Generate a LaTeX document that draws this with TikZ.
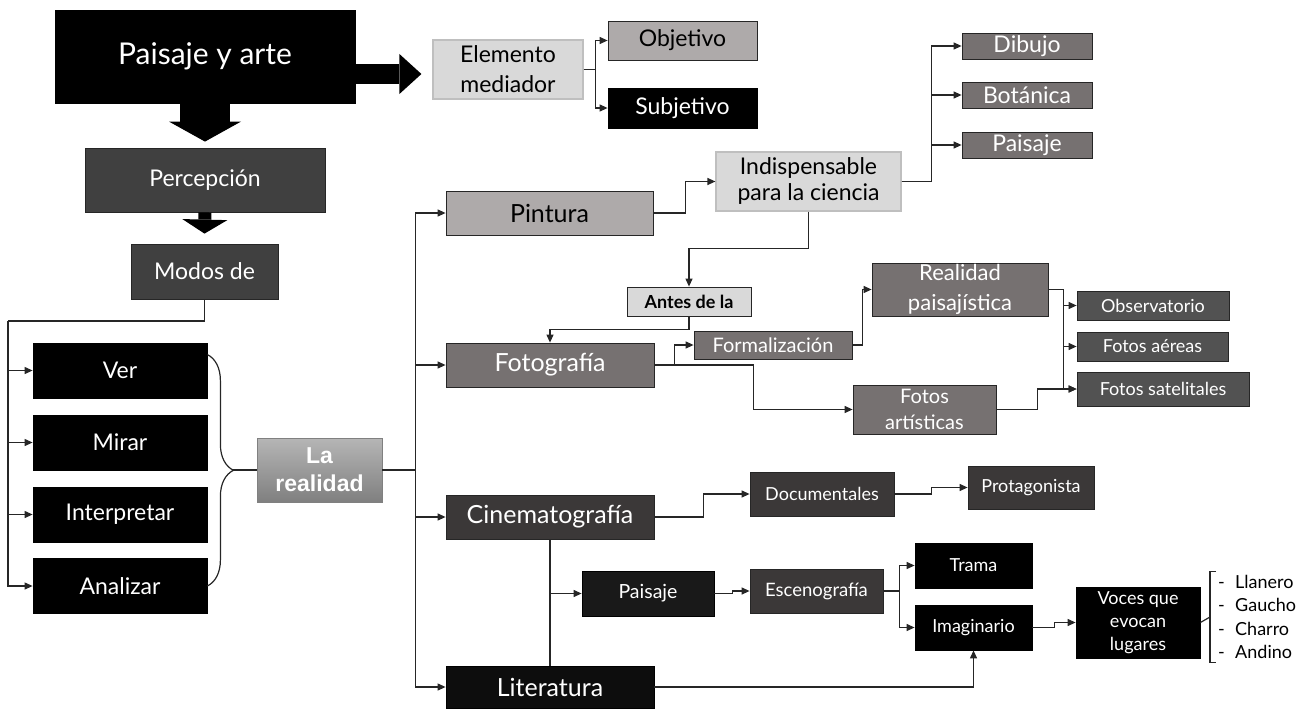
\documentclass[tikz,border=0pt]{standalone}
\usepackage{fontspec}
\setmainfont{Lato}
\newfontfamily\arialfont{Liberation Sans}
\usetikzlibrary{arrows.meta,decorations.pathreplacing}
\definecolor{edge}{HTML}{262626}
\definecolor{gdark}{HTML}{404040}
\definecolor{gcine}{HTML}{3B3838}
\definecolor{gwarm}{HTML}{767171}
\definecolor{glight}{HTML}{AEAAAA}
\definecolor{gpale}{HTML}{D9D9D9}
\definecolor{gpaleline}{HTML}{BFBFBF}
\definecolor{gobs}{HTML}{525252}
\begin{document}
\begin{tikzpicture}[x=1pt,y=-1pt,>={Triangle[length=8pt,width=7pt]},
  every node/.style={inner sep=0pt,align=center},
  box/.style={draw=edge,line width=0.8pt,text=white},
  blackbox/.style={box,fill=black,draw=black},
  darkbox/.style={box,fill=gdark},
  cinebox/.style={box,fill=gcine},
  warmbox/.style={box,fill=gwarm},
  obsbox/.style={box,fill=gobs},
  lightbox/.style={box,fill=glight,text=black},
  palebox/.style={box,fill=gpale,draw=gpaleline,line width=1.2pt,text=black},
  sz/.style 2 args={minimum width=#1,minimum height=#2},
  big/.style={font=\fontsize{30}{34}\selectfont},
  large/.style={font=\fontsize{25}{29}\selectfont},
  mid/.style={font=\fontsize{23}{29}\selectfont},
  small/.style={font=\fontsize{20}{25}\selectfont},
  tiny/.style={font=\fontsize{18}{23.3}\selectfont},
  conn/.style={draw=edge,line width=1.2pt}]
\useasboundingbox (0,0) rectangle (1305,709);

\node[blackbox,sz={300pt}{93pt},big] (arte) at (205,56.5) {Paisaje y arte};
\node[darkbox,sz={240pt}{64pt},mid] (percep) at (205,180) {Percepción};
\node[darkbox,sz={147pt}{55pt},mid] (modos) at (204.5,271.5) {Modos de};
\node[blackbox,sz={174pt}{55pt},mid] (ver) at (120,370.5) {Ver};
\node[blackbox,sz={174pt}{55pt},mid] (mirar) at (120,442.5) {Mirar};
\node[blackbox,sz={174pt}{55pt},mid] (interp) at (120,514.5) {Interpretar};
\node[blackbox,sz={174pt}{55pt},mid] (analizar) at (120,586) {Analizar};
\node[box,draw=gray,top color=gpaleline!85!gray,bottom color=gray,sz={125pt}{64pt},
  font=\arialfont\bfseries\fontsize{23}{28}\selectfont] (realidad) at (319.5,470) {La\\realidad};

\node[palebox,sz={150pt}{59pt},font=\fontsize{23}{30}\selectfont] (elem) at (508,69.5) {Elemento\\mediador};
\node[lightbox,sz={149pt}{39pt},mid] (obj) at (682.5,40.5) {Objetivo};
\node[blackbox,sz={149pt}{40pt},mid] (subj) at (682.5,108) {Subjetivo};

\node[lightbox,sz={207pt}{44pt},large] (pintura) at (549.5,213) {Pintura};
\node[palebox,sz={185pt}{59pt},font=\fontsize{23}{26}\selectfont] (indisp) at (808.5,181.5) {Indispensable\\para la ciencia};
\node[warmbox,sz={130pt}{26pt},mid] (dibujo) at (1027,46) {Dibujo};
\node[warmbox,sz={130pt}{26pt},mid] (botanica) at (1027,95) {Botánica};
\node[warmbox,sz={130pt}{26pt},mid] (paisajeA) at (1027,145) {Paisaje};
\node[palebox,draw=edge,line width=0.8pt,sz={124pt}{29pt},font=\fontsize{18}{23}\selectfont\bfseries] (antes) at (689,301.5) {Antes de la};

\node[warmbox,sz={208pt}{44pt},large] (foto) at (550,365) {Fotografía};
\node[warmbox,sz={158pt}{28pt},small] (formal) at (773,345) {Formalización};
\node[warmbox,sz={176pt}{53pt},font=\fontsize{22}{30}\selectfont] (realpai) at (960,289.5) {Realidad\\paisajística};
\node[warmbox,sz={143pt}{49pt},font=\fontsize{20}{26}\selectfont] (fotart) at (924.5,409.5) {Fotos\\artísticas};
\node[obsbox,sz={152pt}{29pt},tiny] (observ) at (1153,305.5) {Observatorio};
\node[obsbox,sz={151pt}{29pt},tiny] (aereas) at (1152.5,346.5) {Fotos aéreas};
\node[obsbox,sz={172pt}{34pt},tiny] (satel) at (1163,389) {Fotos satelitales};

\node[cinebox,sz={208pt}{44pt},large] (cine) at (550,517) {Cinematografía};
\node[cinebox,sz={144pt}{44pt},tiny] (docu) at (822,494) {Documentales};
\node[cinebox,sz={126pt}{43pt},tiny] (protag) at (1031,487.5) {Protagonista};
\node[blackbox,fill=black!90,sz={132pt}{45pt},font=\fontsize{19.5}{24}\selectfont] (paisajeC) at (648,593.5) {Paisaje};
\node[cinebox,sz={133pt}{44pt},font=\fontsize{18.5}{24}\selectfont] (esceno) at (816.5,591) {Escenografía};
\node[blackbox,sz={117pt}{45pt},tiny] (trama) at (973.5,565.5) {Trama};
\node[blackbox,sz={117pt}{45pt},tiny] (imag) at (973.5,627.5) {Imaginario};
\node[blackbox,sz={124pt}{71pt},tiny] (voces) at (1138,622.5) {Voces que\\evocan\\lugares};
\node[blackbox,fill=black!95,sz={208pt}{42pt},large] (lit) at (550,687) {Literatura};
\node[tiny,align=left,anchor=west,inner ysep=4pt] (lista) at (1218,617)
  {\makebox[17pt][l]{-}Llanero\\\makebox[17pt][l]{-}Gaucho\\\makebox[17pt][l]{-}Charro\\\makebox[17pt][l]{-}Andino};

% flechas gruesas
\draw[line width=20pt,-{Triangle[length=22pt 0,width=40pt 0,line width=0pt]}]
  ([yshift=-4.5pt]arte.east |- elem.west) -- ([xshift=-11pt,yshift=-4.5pt]elem.west);
\draw[line width=50pt,-{Triangle[length=20pt 0,width=72pt 0,line width=0pt]}]
  (arte.south) -- ([yshift=6pt]percep.north);
\draw[line width=13pt,-{Triangle[length=14pt 0,width=45pt 0,line width=0pt]}]
  (percep.south) -- ([yshift=10pt]modos.north);

\coordinate (trunk) at (8,321);
\draw[conn] (modos.south) |- (trunk);
\foreach \n in {ver,mirar,interp,analizar}
  \draw[conn,->] (trunk) |- (\n.west);
\draw[conn,decorate,decoration={brace,amplitude=26pt}]
  ([yshift=-12pt]ver.north east) -- (analizar.east);
\draw[conn] (realidad.west) -- ++(-24,0);

\draw[conn,->] (elem.east) -- ++(12,0) |- (obj.west);
\draw[conn,->] (elem.east) -- ++(12,0) |- (subj.west);

\foreach \n in {pintura,foto,cine,lit}
  \draw[conn,->] (realidad.east) -- ++(33,0) |- (\n.west);

\draw[conn,->] (pintura.east) -- ++(32,0) |- (indisp.west);
\foreach \n in {dibujo,botanica,paisajeA}
  \draw[conn,->] (indisp.east) -- ++(30,0) |- (\n.west);
\draw[conn,->] (indisp.south) -- ++(0,37) -| (antes.north);
\draw[conn,->] (antes.south) -- ++(0,13) -| (foto.north);

\draw[conn,->] (foto.east) -- ++(20,0) |- (formal.west);
\draw[conn,->] (foto.east) -- ++(99,0) |- (fotart.west);
\draw[conn,->] (formal.east) -- ++(10,0) |- (realpai.west);
\foreach \n in {observ,aereas,satel}
  \draw[conn,->] (realpai.east) -- ++(15,0) |- (\n.west);
\draw[conn,->] (fotart.east) -- ++(41,0) |- (satel.west);

\draw[conn,->] (cine.east) -- ++(49,0) |- (docu.west);
\draw[conn,->] (docu.east) -- ++(37,0) |- (protag.west);
\draw[conn] (cine.south) -- (lit.north);
\draw[conn,->] (cine.south |- paisajeC.west) -- (paisajeC.west);
\draw[conn,->] (paisajeC.east) -- ++(18,0) |- (esceno.west);
\draw[conn,->] (esceno.east) -- ++(16,0) |- (trama.west);
\draw[conn,->] (esceno.east) -- ++(16,0) |- (imag.west);
\draw[conn,->] (imag.east) -- ++(22,0) |- (voces.west);
\draw[conn,->] (lit.east) -| (imag.south);

\coordinate (brk) at ([xshift=-8pt]lista.west);
\draw[conn] (voces.east) -- (brk);
\draw[conn] ([xshift=-2pt]lista.north west) -| (brk) |- ([xshift=-2pt]lista.south west);
\end{tikzpicture}
\end{document}
